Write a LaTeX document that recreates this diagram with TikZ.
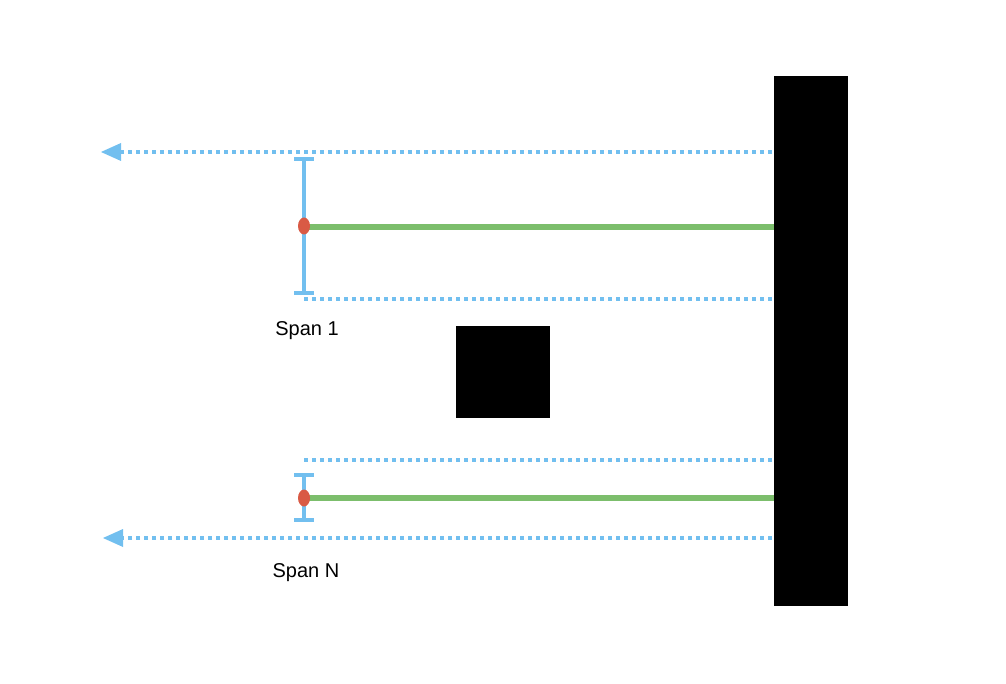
\documentclass[tikz,border=0pt]{standalone}
\usepackage{fontspec}
\setmainfont{Liberation Sans}
\usetikzlibrary{arrows.meta,shapes.geometric}
\definecolor{lblue}{HTML}{72BFEF}
\definecolor{lgreen}{HTML}{7CBE6C}
\definecolor{lred}{HTML}{D95A45}
\begin{document}
\begin{tikzpicture}[x=1pt,y=-1pt,
  dots/.style={lblue, line width=4pt, dash pattern=on 4pt off 4pt},
  span/.style={lblue, line width=3.5pt},
  barcap/.style={lblue, line width=3.5pt},
  rod/.style={lgreen, line width=6pt},
  pt/.style={ellipse, fill=lred, minimum width=12pt, minimum height=17pt, inner sep=0pt},
  lbl/.style={font=\fontsize{20pt}{22pt}\selectfont, inner sep=0pt}]
\useasboundingbox (0,0) rectangle (1006,684);
% wall and block
\fill[black] (774,76) rectangle (848,606);
\node[fill=black, minimum width=94pt, minimum height=92pt, inner sep=0pt] (block) at (503,372) {};
% top span
\coordinate (a1s) at (772,152);
\coordinate (a1e) at (121,152);
\draw[dots] (a1s) -- (a1e);
\fill[lblue] (101,152) -- (121,143) -- (121,161) -- cycle;
\coordinate (b1t) at (304,159);
\coordinate (b1b) at (304,293);
\draw[span] (b1t) -- (b1b);
\draw[barcap] (294,159) -- (314,159);
\draw[barcap] (294,293) -- (314,293);
\coordinate (w1) at (774,227);
\coordinate (p1r) at (304,227);
\draw[rod] (p1r) -- (w1);
\node[pt] (p1) at (304,226) {};
\coordinate (d1s) at (304,299);
\coordinate (d1e) at (772,299);
\draw[dots] (d1s) -- (d1e);
\node[lbl] (s1) at (307,331) {Span 1};
% bottom span
\coordinate (d2s) at (304,460);
\coordinate (d2e) at (772,460);
\draw[dots] (d2s) -- (d2e);
\coordinate (b2t) at (304,475);
\coordinate (b2b) at (304,520);
\draw[span] (b2t) -- (b2b);
\draw[barcap] (294,475) -- (314,475);
\draw[barcap] (294,520) -- (314,520);
\coordinate (w2) at (774,498);
\coordinate (p2r) at (304,498);
\draw[rod] (p2r) -- (w2);
\node[pt] (p2) at (304,498) {};
\coordinate (a2s) at (772,538);
\coordinate (a2e) at (123,538);
\draw[dots] (a2s) -- (a2e);
\fill[lblue] (103,538) -- (123,529) -- (123,547) -- cycle;
\node[lbl] (sN) at (306,573) {Span N};
\end{tikzpicture}
\end{document}
